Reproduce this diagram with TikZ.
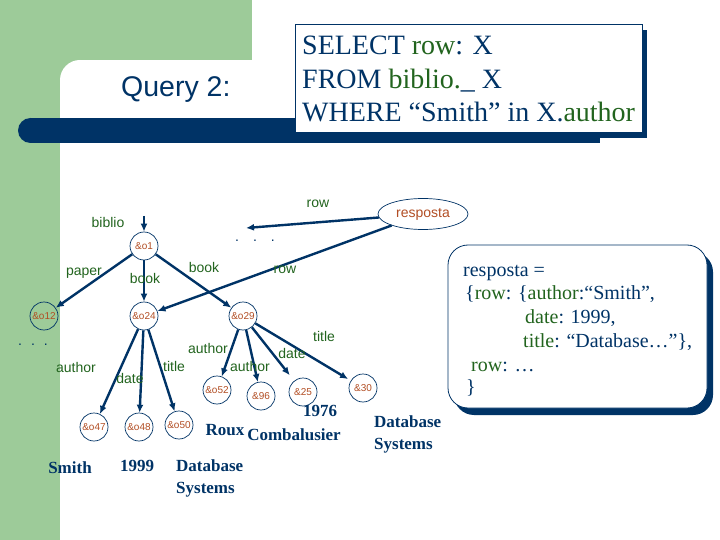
\documentclass[tikz,border=0pt]{standalone}
\usepackage{fontspec}
\setmainfont{Liberation Serif}
\setsansfont{Liberation Sans}
\usetikzlibrary{arrows.meta,shapes.geometric}
\definecolor{navy}{RGB}{0,51,102}
\definecolor{bggreen}{RGB}{157,203,153}
\definecolor{lblgreen}{RGB}{34,100,30}
\definecolor{oid}{RGB}{178,78,36}
\begin{document}
\begin{tikzpicture}[x=1pt,y=-1pt,
  obj/.style={circle,draw=navy,line width=0.7pt,minimum size=28pt,inner sep=0pt,
    font=\sffamily\fontsize{10}{10}\selectfont,text=oid},
  arr/.style={draw=navy,line width=2.4pt,-{Latex[length=8pt,width=7pt]}},
  elab/.style={font=\sffamily\fontsize{14}{14}\selectfont,text=lblgreen,inner sep=0pt},
  val/.style={font=\fontsize{17}{22}\selectfont\bfseries,text=navy,inner sep=0pt},
  qline/.style={font=\fontsize{28}{33}\selectfont,text=navy,inner sep=0pt,anchor=base west},
  aline/.style={font=\fontsize{20}{24}\selectfont,text=navy,inner sep=0pt,anchor=base west},
  dots/.style={font=\sffamily\fontsize{14}{14}\selectfont,text=navy,inner sep=0pt}]
\useasboundingbox (0,0) rectangle (720,540);
\clip (0,0) rectangle (720,540);
% background
\fill[white] (0,0) rectangle (720,540);
\fill[bggreen] (0,0) rectangle (252,60);
\fill[bggreen] (0,0) rectangle (60,540);
\fill[bggreen] (60,60) rectangle (80,80);
\fill[white] (80,80) circle (20);
% navy bar
\fill[navy] (30.5,118) rectangle (600,143);
\fill[navy] (30.5,130.5) circle (12.5);
% query box
\fill[navy] (301,30) rectangle (647,138);
\filldraw[fill=white,draw=navy,line width=0.8pt] (295,24) rectangle (642,132);
\node[qline] (q1) at (302,55) {SELECT \textcolor{lblgreen}{row}: X};
\node[qline] (q2) at (302,88.5) {FROM \textcolor{lblgreen}{biblio.}\_ X};
\node[qline] (q3) at (302,122) {WHERE “Smith” in X.\textcolor{lblgreen}{author}};
\node[font=\sffamily\fontsize{28.5}{28.5}\selectfont,text=navy,inner sep=0pt,anchor=base west] (title) at (121,97) {Query 2:};
% answer box
\fill[navy,rounded corners=20pt] (454,252) rectangle (713,415);
\filldraw[fill=white,draw=navy,line width=0.8pt,rounded corners=20pt] (448,245) rectangle (707,408);
\node[aline] (a1) at (463,276) {resposta =};
\node[aline] (a2) at (465,299.5) {\{\textcolor{lblgreen}{row}: \{\textcolor{lblgreen}{author}:“Smith”,};
\node[aline] (a3) at (525,323) {\textcolor{lblgreen}{date}: 1999,};
\node[aline] (a4) at (523,347) {\textcolor{lblgreen}{title}: “Database…”\},};
\node[aline] (a5) at (471,371) {\textcolor{lblgreen}{row}: …};
\node[aline] (a6) at (466,393) {\}};
% graph nodes
\node[obj] (o1) at (144,246) {\&o1};
\node[obj] (o12) at (44,316) {\&o12};
\node[obj] (o24) at (144,316) {\&o24};
\node[obj] (o29) at (243,316) {\&o29};
\node[obj] (o47) at (94,427) {\&o47};
\node[obj] (o48) at (139,427) {\&o48};
\node[obj] (o50) at (179,425) {\&o50};
\node[obj] (o52) at (217,390) {\&o52};
\node[obj] (o96) at (261,396) {\&96};
\node[obj] (o25) at (303,392) {\&25};
\node[obj] (o30) at (363,388) {\&30};
\node[ellipse,draw=navy,line width=0.7pt,minimum width=90pt,minimum height=31pt,inner sep=0pt,
  font=\sffamily\fontsize{14}{14}\selectfont,text=oid] (resp) at (423,214) {resposta};
\coordinate (bstart) at (144,216);
\coordinate (rowend) at (246,228);
% connectors
\draw[arr] (bstart) -- (o1);
\draw[arr] (o1) -- (o12);
\draw[arr] (o1) -- (o24);
\draw[arr] (o1) -- (o29);
\draw[arr] (resp) -- (rowend);
\draw[arr] (resp) -- (o24);
\draw[arr] (o24) -- (o47);
\draw[arr] (o24) -- (o48);
\draw[arr] (o24) -- (o50);
\draw[arr] (o29) -- (o52);
\draw[arr] (o29) -- (o96);
\draw[arr,shorten >=7pt] (o29) -- (o25);
\draw[arr,shorten >=3pt] (o29) -- (o30);
% edge labels
\node[elab] (lbiblio) at (108,222) {biblio};
\node[elab] (lpaper) at (84,273) {paper};
\node[elab] (lbook1) at (145,278) {book};
\node[elab] (lbook2) at (204,267) {book};
\node[elab] (lrow1) at (318,204) {row};
\node[elab] (lrow2) at (285,270) {row};
\node[elab] (lauth1) at (76,367) {author};
\node[elab] (ldate1) at (130,378) {date};
\node[elab] (ltitle1) at (174,366) {title};
\node[elab] (lauth2) at (208,348) {author};
\node[elab] (lauth3) at (250,366) {author};
\node[elab] (ldate2) at (292,353) {date};
\node[elab] (ltitle2) at (324,336) {title};
\node[dots] (dots1) at (255,241) {.\hspace{14pt}.\hspace{14pt}.};
\node[dots] (dots2) at (33,345) {.\hspace{9pt}.\hspace{9pt}.};
% values
\node[val] (vsmith) at (70,468) {Smith};
\node[val] (v1999) at (137,466) {1999};
\node[val,align=left,anchor=west] (vdb1) at (176,478) {Database\\Systems};
\node[val] (vroux) at (225,430) {Roux};
\node[val] (vcomb) at (294,435) {Combalusier};
\node[val] (v1976) at (320,411) {1976};
\node[val,align=left,anchor=west] (vdb2) at (374,434) {Database\\Systems};
\end{tikzpicture}
\end{document}
